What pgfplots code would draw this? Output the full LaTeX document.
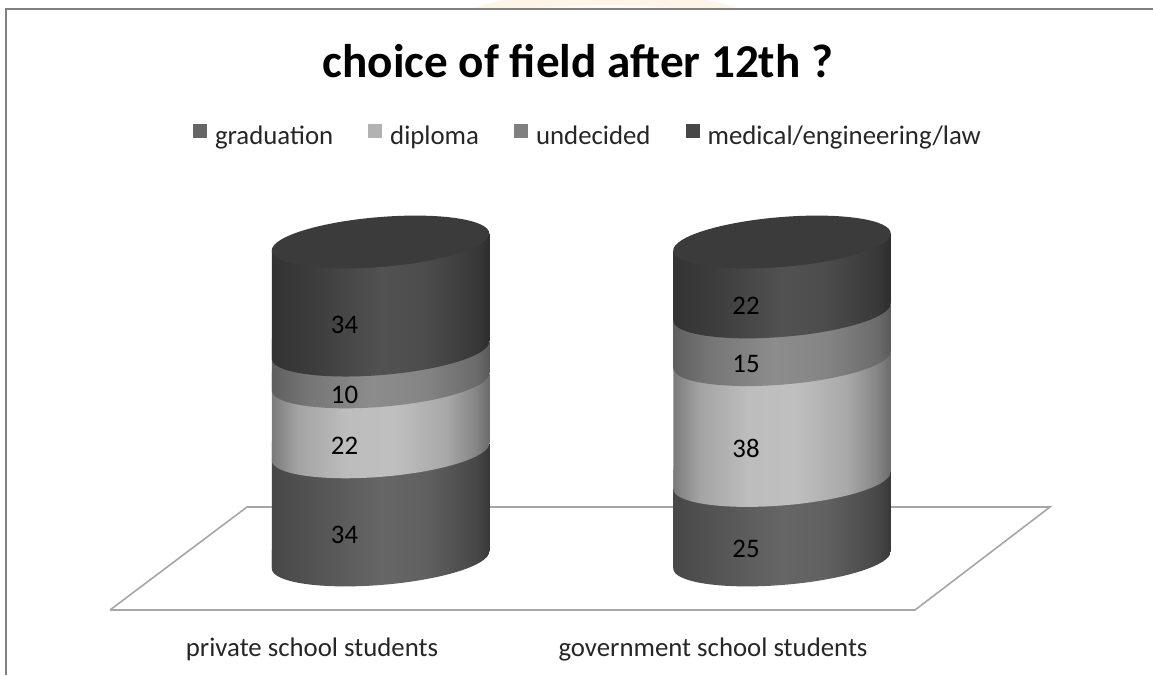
\documentclass[border=0pt]{standalone}
\usepackage{fontspec}
\setmainfont{Carlito}
\usepackage{pgfplots}
\usepackage{pgfplotstable}
\pgfplotsset{compat=1.18}

% Cylinder surface shadings: stops run from 25bp (left edge) to 75bp (right edge)
\pgfdeclarehorizontalshading{gradshade}{100bp}{color(0bp)=(black!72); color(25bp)=(black!72); color(35bp)=(black!67); color(50bp)=(black!60); color(60bp)=(black!62); color(72bp)=(black!72); color(75bp)=(black!78); color(100bp)=(black!78)}
\pgfdeclarehorizontalshading{diplshade}{100bp}{color(0bp)=(black!52); color(25bp)=(black!52); color(31bp)=(black!36); color(42bp)=(black!26); color(53bp)=(black!25); color(65bp)=(black!34); color(72bp)=(black!48); color(75bp)=(black!58); color(100bp)=(black!58)}
\pgfdeclarehorizontalshading{undeshade}{100bp}{color(0bp)=(black!63); color(25bp)=(black!63); color(33bp)=(black!54); color(48bp)=(black!45); color(60bp)=(black!48); color(72bp)=(black!58); color(75bp)=(black!65); color(100bp)=(black!65)}
\pgfdeclarehorizontalshading{medishade}{100bp}{color(0bp)=(black!80); color(25bp)=(black!80); color(35bp)=(black!76); color(50bp)=(black!68); color(60bp)=(black!70); color(72bp)=(black!78); color(75bp)=(black!82); color(100bp)=(black!82)}

% Lower half of a band's sheared ellipse at stacked height #1, reaching a little
% up into its own band so that no seam shows where the two meet
\newcommand{\bandcap}[2]{%
  \path[shade,shading=#2]
    (axis cs:-108.75,#1)
    .. controls (axis cs:-108.75,{#1-4.34}) and (axis cs:-60.06,{#1-7.86}) .. (axis cs:0,{#1-7.86})
    .. controls (axis cs:60.06,{#1-7.86}) and (axis cs:108.75,{#1-4.34}) .. (axis cs:108.75,#1)
    -- (axis cs:108.75,{#1+6}) -- (axis cs:-108.75,{#1+6}) -- cycle;}
% Whole ellipse closing the top of a cylinder
\newcommand{\topcap}[1]{%
  \fill[black!77]
    (axis cs:-108.75,#1)
    .. controls (axis cs:-108.75,{#1-4.34}) and (axis cs:-60.06,{#1-7.86}) .. (axis cs:0,{#1-7.86})
    .. controls (axis cs:60.06,{#1-7.86}) and (axis cs:108.75,{#1-4.34}) .. (axis cs:108.75,#1)
    .. controls (axis cs:108.75,{#1+4.34}) and (axis cs:60.06,{#1+7.86}) .. (axis cs:0,{#1+7.86})
    .. controls (axis cs:-60.06,{#1+7.86}) and (axis cs:-108.75,{#1+4.34}) .. (axis cs:-108.75,#1)
    -- cycle;}

\pgfplotsset{
  cylinder axis/.style={
    anchor=south west, x={(1pt,0.078pt)}, y={(0pt,3.18pt)},
    xmin=-108.75, xmax=108.75, ymin=0, ymax=100,
    hide axis, clip=false, stack plots=y,
    reverse stacked plots=false,
  },
  % one stacked band: shading name, value; its value is set on the band's middle point
  band/.style 2 args={
    shade, shading=#1, draw=none, no markers,
    nodes near coords, point meta=explicit symbolic,
    every node near coord/.append style={
      font=\fontsize{26.8}{27}\selectfont, text=black, anchor=center,
      xshift=-36pt, yshift={-(#2*1.59+28.5)*1pt}},
  },
}

\begin{document}
\begin{tikzpicture}[x=1pt,y=1pt]
\path[use as bounding box,fill=white] (0,0) rectangle (1153,675);
% pale ornament showing above the chart frame
\fill[orange!9] (470,665.5) .. controls (485,671) and (500,675) .. (510,675) -- (700,675) .. controls (712,675) and (728,671) .. (740,665.5) -- cycle;
\fill[orange!4] (530,665.5) .. controls (560,672) and (650,672) .. (680,665.5) -- cycle;

% Floor, category labels, title and legend
\begin{axis}[
  at={(0pt,50pt)}, anchor=south west, x=1pt, y=1pt,
  xmin=0, xmax=1153, ymin=0, ymax=625,
  clip=false,
  axis line style={draw=none}, tick style={draw=none},
  ytick=\empty,
  xtick={312,713},
  xticklabels={private school students,government school students},
  xticklabel style={font=\fontsize{26.8}{27}\selectfont, text=black!85, yshift=-9pt},
  title={\bfseries choice of field after 12th ?},
  title style={font=\fontsize{47.2}{48}\selectfont, at={(578/1153,558/625)}, anchor=center, text=black},
  legend columns=4,
  legend style={draw=none, fill=none, at={(588/1153,489.5/625)}, anchor=center,
    font=\fontsize{26.8}{27}\selectfont, text=black!85,
    /tikz/every odd column/.append style={column sep=6pt},
    /tikz/every even column/.append style={column sep=33pt}},
  legend image code/.code={\path[#1,draw=none] (0pt,-2.5pt) rectangle (14pt,12pt);},
]
\addplot[draw=black!35, line width=1.6pt, forget plot] coordinates {(110,15) (247,118) (1050,118) (915,15) (110,15)};
\addlegendimage{fill=black!60}\addlegendentry{graduation}
\addlegendimage{fill=black!30}\addlegendentry{diploma}
\addlegendimage{fill=black!50}\addlegendentry{undecided}
\addlegendimage{fill=black!72}\addlegendentry{medical/engineering/law}
\end{axis}

% Private school students
\begin{axis}[cylinder axis, at={(271.75pt,106.52pt)}]
\addplot[draw=none] coordinates {(-108.75,0) (0,0) (108.75,0)};
\addplot[band={gradshade}{34}] coordinates {(-108.75,34) [] (0,34) [34] (108.75,34) []} \closedcycle;
\addplot[band={diplshade}{22}] coordinates {(-108.75,22) [] (0,22) [22] (108.75,22) []} \closedcycle;
\addplot[band={undeshade}{10}] coordinates {(-108.75,10) [] (0,10) [10] (108.75,10) []} \closedcycle;
\addplot[band={medishade}{34}] coordinates {(-108.75,34) [] (0,34) [34] (108.75,34) []} \closedcycle;
\bandcap{0}{gradshade}
\bandcap{34}{diplshade}
\bandcap{56}{undeshade}
\bandcap{66}{medishade}
\topcap{100}
\end{axis}

% Government school students
\begin{axis}[cylinder axis, at={(673.25pt,106.52pt)}]
\addplot[draw=none] coordinates {(-108.75,0) (0,0) (108.75,0)};
\addplot[band={gradshade}{25}] coordinates {(-108.75,25) [] (0,25) [25] (108.75,25) []} \closedcycle;
\addplot[band={diplshade}{38}] coordinates {(-108.75,38) [] (0,38) [38] (108.75,38) []} \closedcycle;
\addplot[band={undeshade}{15}] coordinates {(-108.75,15) [] (0,15) [15] (108.75,15) []} \closedcycle;
\addplot[band={medishade}{22}] coordinates {(-108.75,22) [] (0,22) [22] (108.75,22) []} \closedcycle;
\bandcap{0}{gradshade}
\bandcap{25}{diplshade}
\bandcap{63}{undeshade}
\bandcap{78}{medishade}
\topcap{100}
\end{axis}

% Chart frame, open at the right and bottom
\draw[black!50, line width=2pt] (5.5,0) -- (5.5,665.5) -- (1153,665.5);
\end{tikzpicture}
\end{document}
